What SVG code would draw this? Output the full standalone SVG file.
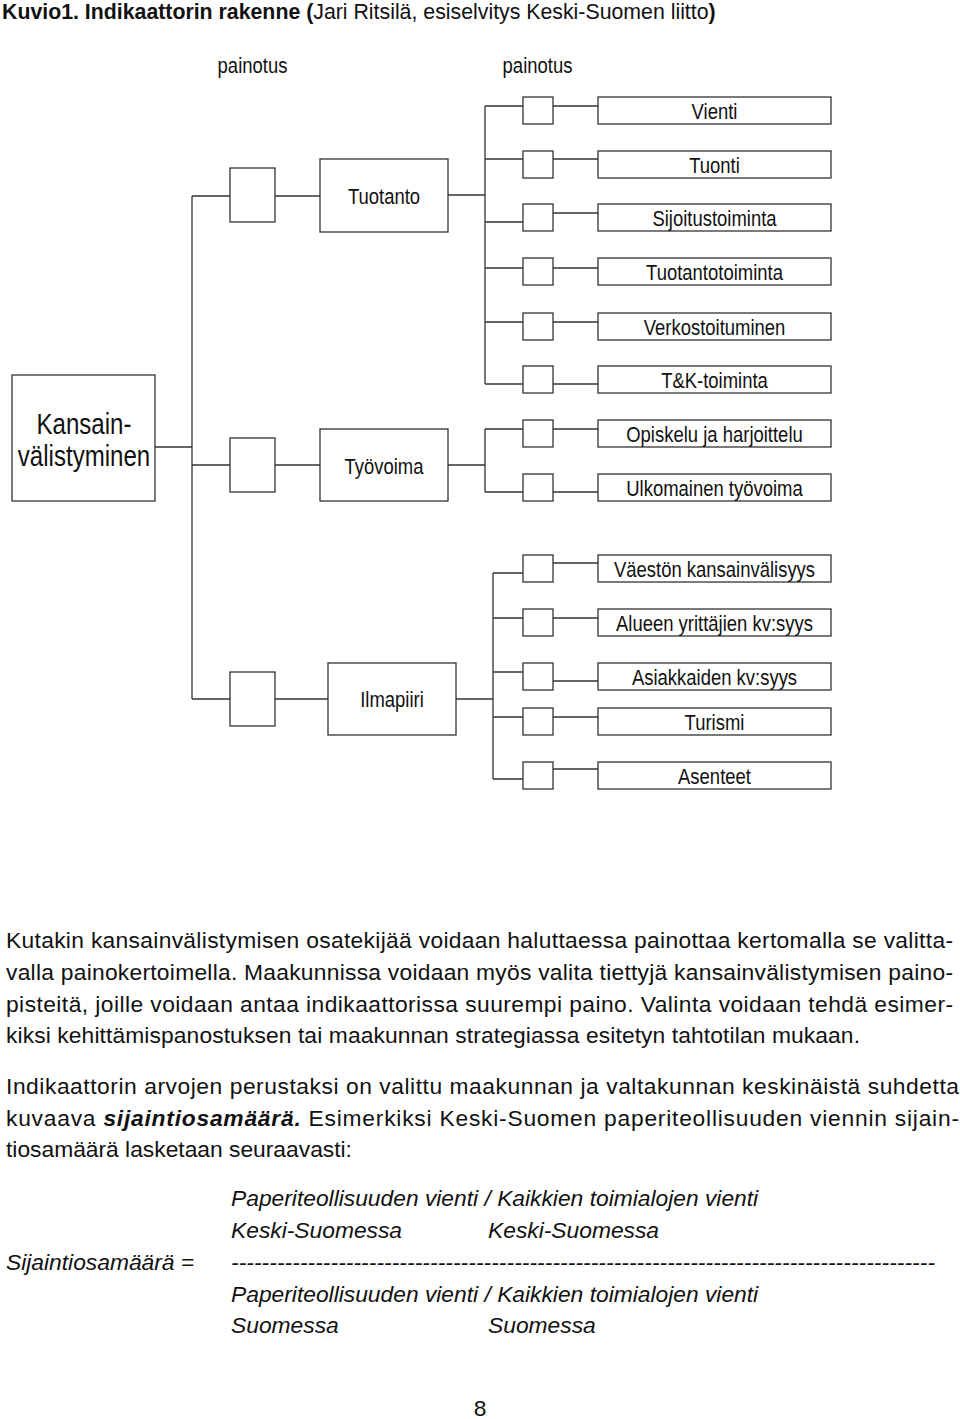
<svg xmlns="http://www.w3.org/2000/svg" width="960" height="1419" viewBox="0 0 960 1419">
<style>
.bx{fill:#fff;stroke:#333;stroke-width:1.3}
.ln{fill:none;stroke:#333;stroke-width:1.3}
.lbl{font-family:"Liberation Sans",Arial,sans-serif;font-size:22px;fill:#111;text-anchor:middle}
.big{font-size:29px}
.p{font-family:"Liberation Sans",Arial,sans-serif;font-size:22.8px;fill:#111}
.it{font-style:italic}
.b{font-weight:bold}
</style>
<rect width="960" height="1419" fill="#fff"/>
<text class="p" x="2" y="19" style="font-size:21.3px"><tspan class="b">Kuvio1. Indikaattorin rakenne (</tspan>Jari Ritsilä, esiselvitys Keski-Suomen liitto<tspan class="b">)</tspan></text>
<text class="lbl" transform="translate(252.5,73) scale(0.84,1)">painotus</text>
<text class="lbl" transform="translate(537.5,73) scale(0.84,1)">painotus</text>
<g id="connectors">
<path class="ln" d="M155,447H192M192,196V699M192,196H230M275,196H320M192,465H230M275,465H320M192,699H230M275,699H328"/>
<path class="ln" d="M448,195H485M485,106V384M485,106H523M553,106H598M485,159H523M553,159H598M485,222H523M553,213H598M485,268H523M553,268H598M485,322H523M553,322H598M485,384H523M553,384H598"/>
<path class="ln" d="M448,465H485M485,429V492M485,429H523M553,429H598M485,492H523M553,492H598"/>
<path class="ln" d="M456,699H493M493,573V779M493,573H523M553,563H598M493,618H523M553,618H598M493,672H523M553,681H598M493,717H523M553,717H598M493,779H523M553,769H598"/>
</g>
<g id="n-kansainvalistyminen">
<rect class="bx" x="12" y="375" width="143" height="126"/>
<text class="lbl big" transform="translate(84,434) scale(0.83,1)">Kansain-</text>
<text class="lbl big" transform="translate(84,466) scale(0.83,1)">välistyminen</text>
</g>
<g id="w-tuotanto"><rect class="bx" x="230" y="168" width="45" height="54"/></g>
<g id="n-tuotanto"><rect class="bx" x="320" y="159" width="128" height="73"/><text class="lbl" transform="translate(384,204) scale(0.84,1)">Tuotanto</text></g>
<g id="w-tyovoima"><rect class="bx" x="230" y="438" width="45" height="54"/></g>
<g id="n-tyovoima"><rect class="bx" x="320" y="429" width="128" height="72"/><text class="lbl" transform="translate(384,474) scale(0.84,1)">Työvoima</text></g>
<g id="w-ilmapiiri"><rect class="bx" x="230" y="672" width="45" height="54"/></g>
<g id="n-ilmapiiri"><rect class="bx" x="328" y="663" width="128" height="72"/><text class="lbl" transform="translate(392,707) scale(0.84,1)">Ilmapiiri</text></g>
<g id="n-vienti"><rect class="bx" x="523" y="97" width="30" height="27"/><rect class="bx" x="598" y="97" width="233" height="27"/><text class="lbl" transform="translate(714.5,119) scale(0.84,1)">Vienti</text></g>
<g id="n-tuonti"><rect class="bx" x="523" y="151" width="30" height="27"/><rect class="bx" x="598" y="151" width="233" height="27"/><text class="lbl" transform="translate(714.5,173) scale(0.84,1)">Tuonti</text></g>
<g id="n-sijoitustoiminta"><rect class="bx" x="523" y="204" width="30" height="27"/><rect class="bx" x="598" y="204" width="233" height="27"/><text class="lbl" transform="translate(714.5,226) scale(0.84,1)">Sijoitustoiminta</text></g>
<g id="n-tuotantotoiminta"><rect class="bx" x="523" y="258" width="30" height="27"/><rect class="bx" x="598" y="258" width="233" height="27"/><text class="lbl" transform="translate(714.5,280) scale(0.84,1)">Tuotantotoiminta</text></g>
<g id="n-verkostoituminen"><rect class="bx" x="523" y="313" width="30" height="27"/><rect class="bx" x="598" y="313" width="233" height="27"/><text class="lbl" transform="translate(714.5,335) scale(0.84,1)">Verkostoituminen</text></g>
<g id="n-tk"><rect class="bx" x="523" y="366" width="30" height="27"/><rect class="bx" x="598" y="366" width="233" height="27"/><text class="lbl" transform="translate(714.5,388) scale(0.84,1)">T&amp;K-toiminta</text></g>
<g id="n-opiskelu"><rect class="bx" x="523" y="420" width="30" height="27"/><rect class="bx" x="598" y="420" width="233" height="27"/><text class="lbl" transform="translate(714.5,442) scale(0.84,1)">Opiskelu ja harjoittelu</text></g>
<g id="n-ulkomainen"><rect class="bx" x="523" y="474" width="30" height="27"/><rect class="bx" x="598" y="474" width="233" height="27"/><text class="lbl" transform="translate(714.5,496) scale(0.84,1)">Ulkomainen työvoima</text></g>
<g id="n-vaeston"><rect class="bx" x="523" y="555" width="30" height="27"/><rect class="bx" x="598" y="555" width="233" height="27"/><text class="lbl" transform="translate(714.5,577) scale(0.84,1)">Väestön kansainvälisyys</text></g>
<g id="n-alueen"><rect class="bx" x="523" y="609" width="30" height="27"/><rect class="bx" x="598" y="609" width="233" height="27"/><text class="lbl" transform="translate(714.5,631) scale(0.84,1)">Alueen yrittäjien kv:syys</text></g>
<g id="n-asiakkaiden"><rect class="bx" x="523" y="663" width="30" height="27"/><rect class="bx" x="598" y="663" width="233" height="27"/><text class="lbl" transform="translate(714.5,685) scale(0.84,1)">Asiakkaiden kv:syys</text></g>
<g id="n-turismi"><rect class="bx" x="523" y="708" width="30" height="27"/><rect class="bx" x="598" y="708" width="233" height="27"/><text class="lbl" transform="translate(714.5,730) scale(0.84,1)">Turismi</text></g>
<g id="n-asenteet"><rect class="bx" x="523" y="762" width="30" height="27"/><rect class="bx" x="598" y="762" width="233" height="27"/><text class="lbl" transform="translate(714.5,784) scale(0.84,1)">Asenteet</text></g>
<g id="paragraphs">
<text class="p" x="6" y="948" textLength="947" lengthAdjust="spacing">Kutakin kansainvälistymisen osatekijää voidaan haluttaessa painottaa kertomalla se valitta-</text>
<text class="p" x="6" y="980" textLength="947" lengthAdjust="spacing">valla painokertoimella. Maakunnissa voidaan myös valita tiettyjä kansainvälistymisen paino-</text>
<text class="p" x="6" y="1012" textLength="947" lengthAdjust="spacing">pisteitä, joille voidaan antaa indikaattorissa suurempi paino. Valinta voidaan tehdä esimer-</text>
<text class="p" x="6" y="1043" textLength="854" lengthAdjust="spacing">kiksi kehittämispanostuksen tai maakunnan strategiassa esitetyn tahtotilan mukaan.</text>
<text class="p" x="6" y="1094" textLength="953" lengthAdjust="spacing">Indikaattorin arvojen perustaksi on valittu maakunnan ja valtakunnan keskinäistä suhdetta</text>
<text class="p" x="6" y="1126" textLength="953" lengthAdjust="spacing">kuvaava <tspan class="b it">sijaintiosamäärä.</tspan> Esimerkiksi Keski-Suomen paperiteollisuuden viennin sijain-</text>
<text class="p" x="6" y="1157">tiosamäärä lasketaan seuraavasti:</text>
</g>
<g id="formula" class="p it">
<text x="231" y="1206">Paperiteollisuuden vienti / Kaikkien toimialojen vienti</text>
<text x="231" y="1238">Keski-Suomessa</text>
<text x="488" y="1238">Keski-Suomessa</text>
<text x="6" y="1270">Sijaintiosamäärä =</text>
<text x="231" y="1270" textLength="704" lengthAdjust="spacing">--------------------------------------------------------------------------------------------</text>
<text x="231" y="1302">Paperiteollisuuden vienti / Kaikkien toimialojen vienti</text>
<text x="231" y="1333">Suomessa</text>
<text x="488" y="1333">Suomessa</text>
</g>
<text class="p" x="480" y="1416" text-anchor="middle">8</text>
</svg>
